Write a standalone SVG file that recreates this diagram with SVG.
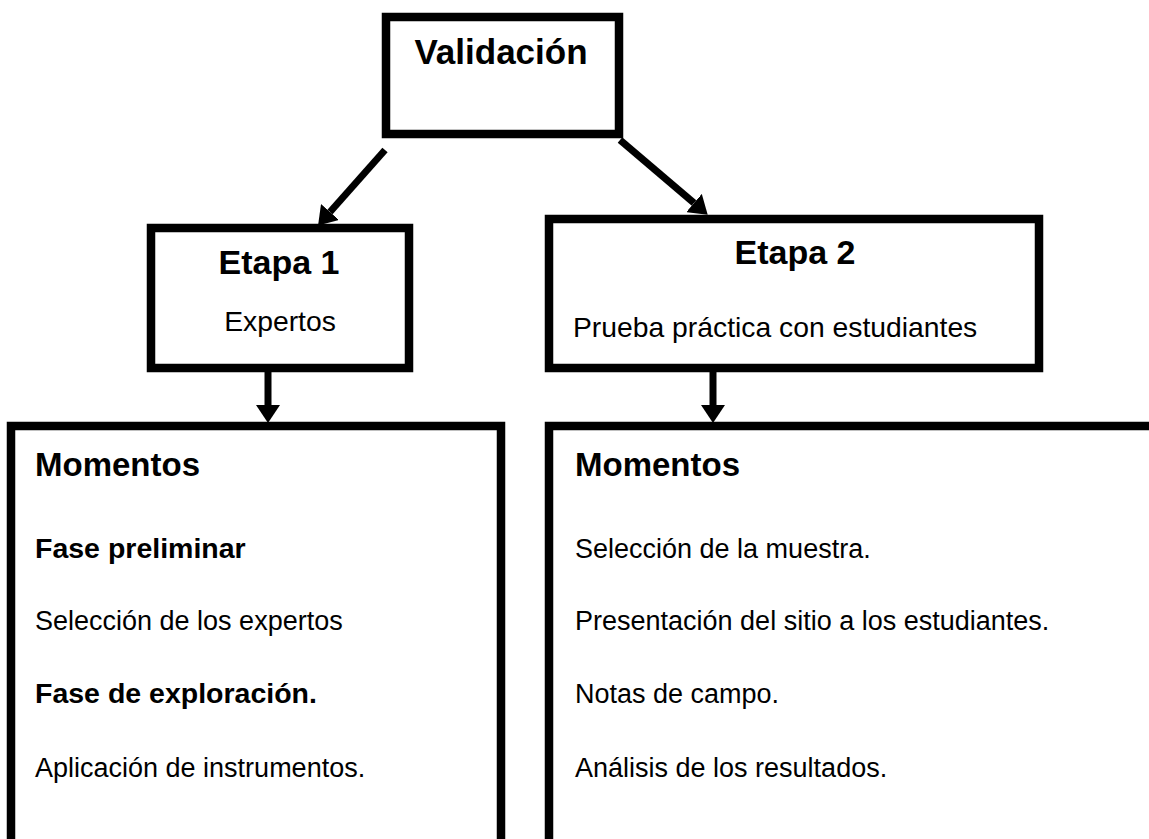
<svg xmlns="http://www.w3.org/2000/svg" width="1149" height="839" viewBox="0 0 1149 839">
<style>
.box{fill:#fff;stroke:#000;stroke-width:8.5}
.t{font-family:"Liberation Sans",Arial,sans-serif;fill:#000}
.b{font-weight:bold}
.body{font-size:27px}
.eb{font-size:28.3px}
.bb{font-size:28.5px;font-weight:bold}
.h{font-size:33px;font-weight:bold}
.conn line{stroke:#000;stroke-width:7}
</style>
<defs>
<marker id="ah" markerUnits="userSpaceOnUse" markerWidth="18" markerHeight="24" viewBox="0 0 18 24" refX="0" refY="12" orient="auto">
<path d="M0,0 L18,12 L0,24 z" fill="#000"/>
</marker>
</defs>
<rect width="1149" height="839" fill="#fff"/>
<g id="validacion">
<rect class="box" x="386" y="17" width="233" height="117"/>
<text class="t b" x="501" y="64" font-size="35" text-anchor="middle">Validación</text>
</g>
<g id="etapa1">
<rect class="box" x="151" y="228" width="258" height="140"/>
<text class="t b" x="279" y="274" font-size="34" text-anchor="middle">Etapa 1</text>
<text class="t eb" x="280" y="331" text-anchor="middle">Expertos</text>
</g>
<g id="etapa2">
<rect class="box" x="549" y="219" width="490" height="149"/>
<text class="t b" x="795" y="264" font-size="34" text-anchor="middle">Etapa 2</text>
<text class="t eb" x="573" y="337">Prueba práctica con estudiantes</text>
</g>
<g id="momentos1">
<rect class="box" x="11" y="426" width="490" height="440"/>
<text class="t h" x="35" y="476">Momentos</text>
<text class="t bb" x="35" y="558">Fase preliminar</text>
<text class="t body" x="35" y="630">Selección de los expertos</text>
<text class="t bb" x="35" y="703">Fase de exploración.</text>
<text class="t body" x="35" y="777">Aplicación de instrumentos.</text>
</g>
<g id="momentos2">
<rect class="box" x="549" y="426" width="620" height="440"/>
<text class="t h" x="575" y="476">Momentos</text>
<text class="t body" x="575" y="558">Selección de la muestra.</text>
<text class="t body" x="575" y="630">Presentación del sitio a los estudiantes.</text>
<text class="t body" x="575" y="703">Notas de campo.</text>
<text class="t body" x="575" y="777">Análisis de los resultados.</text>
</g>
<g id="connectors" class="conn">
<line x1="385" y1="150" x2="330" y2="212" marker-end="url(#ah)"/>
<line x1="620" y1="140" x2="694" y2="203" marker-end="url(#ah)"/>
<line x1="268" y1="366" x2="268" y2="405" marker-end="url(#ah)"/>
<line x1="713" y1="372" x2="713" y2="405" marker-end="url(#ah)"/>
</g>
</svg>
